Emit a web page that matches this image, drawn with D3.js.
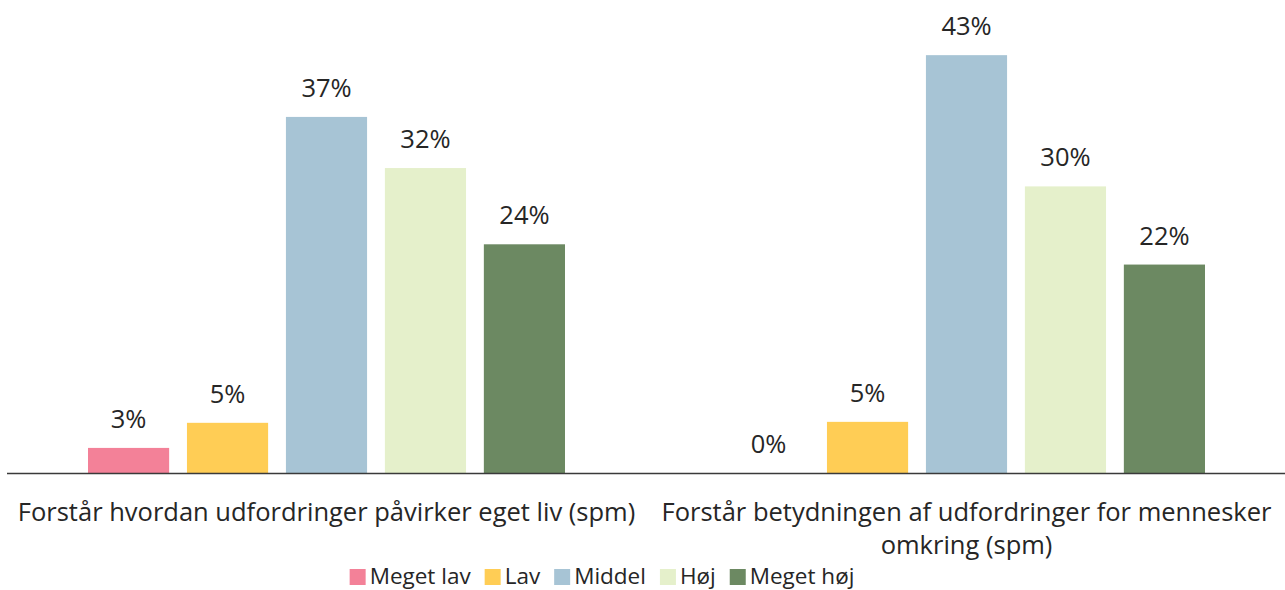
<!DOCTYPE html>
<html>
<head>
<meta charset="utf-8">
<script src="https://cdn.jsdelivr.net/npm/d3@7"></script>
<style>
  html, body { margin: 0; padding: 0; background: #fff; }
  svg text { font-family: "Open Sans", "Noto Sans", sans-serif; fill: #262626; }
</style>
</head>
<body>
<svg id="chart" width="1285" height="590"></svg>
<script>
const categories = [
  ["Forstår hvordan udfordringer påvirker eget liv (spm)"],
  ["Forstår betydningen af udfordringer for mennesker", "omkring (spm)"]
];
const categoryKeys = ["g1", "g2"];
const seriesNames = ["Meget lav", "Lav", "Middel", "Høj", "Meget høj"];
const seriesColors = ["#F38198", "#FFCD55", "#A7C4D5", "#E5F0CB", "#6C8962"];
// values in percent, one array per category (order = seriesNames)
const valuesG1 = [2.6, 5.2, 36.9, 31.6, 23.7];
const valuesG2 = [0, 5.3, 43.3, 29.7, 21.6];
const groupValues = [valuesG1, valuesG2];

const svg = d3.select("#chart");
const baseY = 473;
const pxPerPct = 9.65;

const x0 = d3.scaleBand().domain(categoryKeys).range([6.5, 1286.5]).padding(0);
const x1 = d3.scaleBand().domain(seriesNames).range([81.5, 558.5]).paddingInner(0.18).paddingOuter(0);
const y = d3.scaleLinear().domain([0, 50]).range([baseY, baseY - 50 * pxPerPct]);
const color = d3.scaleOrdinal().domain(seriesNames).range(seriesColors);

const fsLabel = 25.5;
const fsLegend = 22.5;

const groups = svg.selectAll("g.grp")
  .data(categoryKeys.map((k, i) => ({ key: k, vals: groupValues[i] })))
  .join("g").attr("class", "grp")
  .attr("transform", d => `translate(${x0(d.key)},0)`);

groups.selectAll("rect")
  .data(d => d.vals.map((v, j) => ({ name: seriesNames[j], v })))
  .join("rect")
  .attr("x", d => x1(d.name))
  .attr("width", x1.bandwidth())
  .attr("y", d => y(d.v))
  .attr("height", d => baseY - y(d.v))
  .attr("fill", d => color(d.name));

groups.selectAll("text.val")
  .data(d => d.vals.map((v, j) => ({ name: seriesNames[j], v })))
  .join("text").attr("class", "val")
  .attr("x", d => x1(d.name) + x1.bandwidth() / 2)
  .attr("y", d => y(d.v) - 20)
  .attr("text-anchor", "middle")
  .style("font-size", fsLabel + "px")
  .text(d => Math.round(d.v) + "%");

// axis (baseline + category labels)
const axis = svg.append("g")
  .attr("transform", `translate(0,${baseY})`)
  .call(d3.axisBottom(x0).tickSize(0).tickSizeOuter(0).tickFormat(""));
axis.select(".domain").attr("stroke", "#3a3a3a").attr("stroke-width", 1.6);

axis.selectAll(".tick text").remove();
axis.selectAll(".tick").each(function(d, i) {
  const t = d3.select(this).append("text")
    .attr("text-anchor", "middle")
    .attr("y", 48)
    .style("font-size", fsLabel + "px");
  categories[i].forEach((line, li) => {
    t.append("tspan").attr("x", 0).attr("dy", li === 0 ? 0 : 33).text(line);
  });
});

// legend
const legend = svg.append("g").attr("class", "legend");
const items = legend.selectAll("g").data(seriesNames).join("g");
items.append("rect").attr("width", 16).attr("height", 16).attr("y", 569).attr("fill", d => color(d));
items.append("text").attr("x", 20).attr("y", 584).style("font-size", fsLegend + "px").text(d => d);
let xpos = 0;
items.each(function() {
  const g = d3.select(this);
  g.attr("transform", `translate(${xpos},0)`);
  const w = g.select("text").node().getComputedTextLength();
  xpos += 20 + w + 14;
});
const totalW = xpos - 14;
legend.attr("transform", `translate(${602 - totalW / 2},0)`);
</script>
</body>
</html>
